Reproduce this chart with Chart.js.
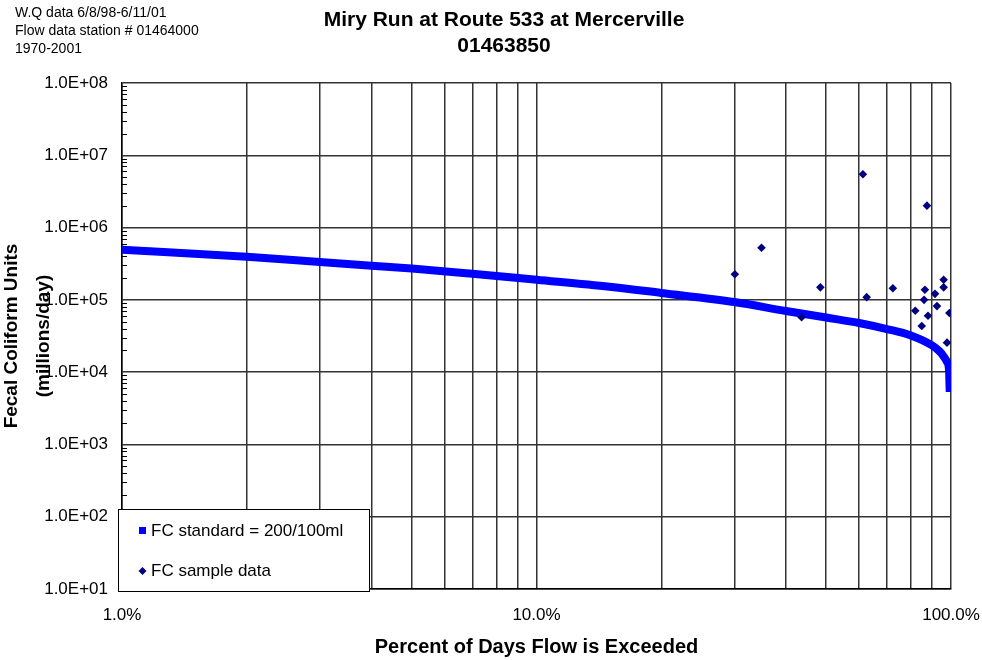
<!DOCTYPE html>
<html>
<head>
<meta charset="utf-8">
<title>Miry Run at Route 533 at Mercerville</title>
<script src="https://cdn.jsdelivr.net/npm/chart.js@4.4.1/dist/chart.umd.min.js"></script>
<style>
  html, body { margin: 0; padding: 0; background: #fff; }
  #wrap { width: 982px; height: 660px; }
</style>
</head>
<body>
<div id="wrap"><canvas id="myChart" width="982" height="660"></canvas></div>
<script>
const FONT = "'Liberation Sans', Arial, sans-serif";

// FC standard curve (percent of days exceeded -> load, millions/day)
const standardPct = [1, 2, 3, 4, 5, 7, 10, 15, 20, 30, 40, 50, 60, 70, 80, 90, 94, 96, 97.7, 98.8, 99.0, 99.15, 99.3];
const standardLoad = [4.94e5, 3.96e5, 3.34e5, 2.97e5, 2.72e5, 2.3e5, 1.9e5, 1.52e5, 1.245e5, 9.34e4, 7.01e4, 5.7e4, 4.79e4, 3.95e4, 3.21e4, 2.34e4, 1.92e4, 1.65e4, 1.4e4, 1.14e4, 9.44e3, 6.86e3, 5.32e3];

// FC sample data
const samplePct = [61.3, 87.5, 34.9, 30.1, 48.4, 72.4, 62.6, 96.0, 96.0, 86.5, 91.5, 86.1, 92.5, 82.0, 88.0, 99.1, 43.6, 85.0, 97.8];
const sampleLoad = [5.46e6, 2.01e6, 5.27e5, 2.26e5, 1.49e5, 1.45e5, 1.09e5, 1.9e5, 1.49e5, 1.38e5, 1.21e5, 1.0e5, 8.2e4, 7.08e4, 6.04e4, 6.58e4, 5.74e4, 4.35e4, 2.56e4];

// axis ticks
const yTickValues = [1e1, 1e2, 1e3, 1e4, 1e5, 1e6, 1e7, 1e8];
const yTickLabels = ['1.0E+01', '1.0E+02', '1.0E+03', '1.0E+04', '1.0E+05', '1.0E+06', '1.0E+07', '1.0E+08'];
const xTickValues = [1, 10, 100];
const xTickLabels = ['1.0%', '10.0%', '100.0%'];

const noteLines = ['W.Q data 6/8/98-6/11/01', 'Flow data station # 01464000', '1970-2001'];
const titleLines = ['Miry Run at Route 533 at Mercerville', '01463850'];

// decade + 2..9 positions for grid lines / minor ticks
function withMinors(decades) {
  const out = [];
  for (let i = 0; i < decades.length - 1; i++) {
    for (let m = 1; m <= 9; m++) out.push(decades[i] * m);
  }
  out.push(decades[decades.length - 1]);
  return out;
}
const xGrid = withMinors(xTickValues);
const yGrid = withMinors(yTickValues);

const isDecade = v => Math.abs(Math.log10(v) - Math.round(Math.log10(v))) < 1e-9;

const textPlugin = {
  id: 'texts',
  afterDraw(chart) {
    const ctx = chart.ctx;
    ctx.save();
    ctx.fillStyle = '#000';
    ctx.textBaseline = 'middle';
    ctx.textAlign = 'left';
    ctx.font = '14px ' + FONT;
    noteLines.forEach((t, i) => ctx.fillText(t, 15, 13 + i * 18));
    ctx.textAlign = 'center';
    ctx.font = 'bold 21px ' + FONT;
    ctx.fillText(titleLines[0], 504, 20);
    ctx.fillText(titleLines[1], 504, 46);
    ctx.restore();
  }
};

const minorTickPlugin = {
  id: 'minorTicks',
  beforeDatasetsDraw(chart) {
    const ctx = chart.ctx;
    const y = chart.scales.y;
    ctx.save();
    ctx.strokeStyle = '#000';
    ctx.lineWidth = 1;
    ctx.beginPath();
    yGrid.filter(v => !isDecade(v)).forEach(v => {
      const py = Math.round(y.getPixelForValue(v)) + 0.5;
      ctx.moveTo(chart.chartArea.left, py);
      ctx.lineTo(chart.chartArea.left + 5, py);
    });
    ctx.stroke();
    ctx.restore();
  }
};

const legendPlugin = {
  id: 'boxLegend',
  afterDraw(chart) {
    const ctx = chart.ctx;
    const ds = chart.data.datasets;
    ctx.save();
    ctx.fillStyle = '#fff';
    ctx.fillRect(118, 509, 251, 82);
    ctx.strokeStyle = '#000';
    ctx.lineWidth = 1;
    ctx.strokeRect(118.5, 509.5, 251, 82);
    // markers
    ctx.fillStyle = ds[0].borderColor;
    ctx.fillRect(139, 527, 7, 7);
    ctx.fillStyle = ds[1].backgroundColor;
    ctx.beginPath();
    ctx.moveTo(142.5, 567);
    ctx.lineTo(146.5, 571);
    ctx.lineTo(142.5, 575);
    ctx.lineTo(138.5, 571);
    ctx.closePath();
    ctx.fill();
    ctx.fillStyle = '#000';
    ctx.font = '17px ' + FONT;
    ctx.textBaseline = 'middle';
    ctx.fillText(ds[0].label, 151, 531);
    ctx.fillText(ds[1].label, 151, 571);
    ctx.restore();
  }
};

const ctx = document.getElementById('myChart').getContext('2d');

new Chart(ctx, {
  data: {
    datasets: [
      {
        type: 'line',
        label: 'FC standard = 200/100ml',
        data: standardPct.map((p, i) => ({ x: p, y: standardLoad[i] })),
        borderColor: '#0000FF',
        backgroundColor: '#0000FF',
        borderWidth: 8,
        borderCapStyle: 'butt',
        pointRadius: 0,
        cubicInterpolationMode: 'monotone',
        order: 2
      },
      {
        type: 'scatter',
        label: 'FC sample data',
        data: samplePct.map((p, i) => ({ x: p, y: sampleLoad[i] })),
        backgroundColor: '#000080',
        borderColor: '#000080',
        pointStyle: 'rectRot',
        pointRadius: 4.3,
        pointBorderWidth: 0,
        order: 1
      }
    ]
  },
  options: {
    responsive: false,
    animation: false,
    layout: { padding: { top: 83, right: 31, bottom: 0, left: 0 } },
    plugins: {
      legend: { display: false },
      title: { display: false },
      tooltip: { enabled: false }
    },
    scales: {
      x: {
        type: 'logarithmic',
        min: 1,
        max: 100,
        afterFit: s => { s.height = 71; },
        afterBuildTicks: s => { s.ticks = xGrid.map(v => ({ value: v })); },
        grid: { color: '#333', lineWidth: 1.5, drawTicks: true, tickLength: 16, tickColor: 'rgba(0,0,0,0)' },
        border: { color: '#000', width: 1.5 },
        ticks: {
          autoSkip: false,
          maxRotation: 0,
          padding: 0,
          color: '#000',
          font: { family: FONT, size: 17 },
          callback: v => {
            const i = xTickValues.indexOf(v);
            return i >= 0 ? xTickLabels[i] : '';
          }
        },
        title: {
          display: true,
          text: 'Percent of Days Flow is Exceeded',
          color: '#000',
          font: { family: FONT, size: 20, weight: 'bold' },
          padding: { top: 0, bottom: 1 }
        }
      },
      y: {
        type: 'logarithmic',
        min: 10,
        max: 1e8,
        afterFit: s => { s.width = 122; },
        afterBuildTicks: s => { s.ticks = yGrid.map(v => ({ value: v })); },
        grid: {
          color: c => (c.tick && isDecade(c.tick.value)) ? '#333' : 'rgba(0,0,0,0)',
          lineWidth: 1.5,
          drawTicks: false
        },
        border: { color: '#000', width: 1.5 },
        ticks: {
          autoSkip: false,
          padding: 14,
          color: '#000',
          font: { family: FONT, size: 17 },
          callback: v => {
            const i = yTickValues.indexOf(v);
            return i >= 0 ? yTickLabels[i] : '';
          }
        },
        title: {
          display: true,
          text: ['Fecal Coliform Units', '(millions/day)'],
          color: '#000',
          font: { family: FONT, size: 19, weight: 'bold', lineHeight: '32px' },
          padding: { top: -4, bottom: 0 }
        }
      }
    }
  },
  plugins: [minorTickPlugin, legendPlugin, textPlugin]
});
</script>
</body>
</html>
